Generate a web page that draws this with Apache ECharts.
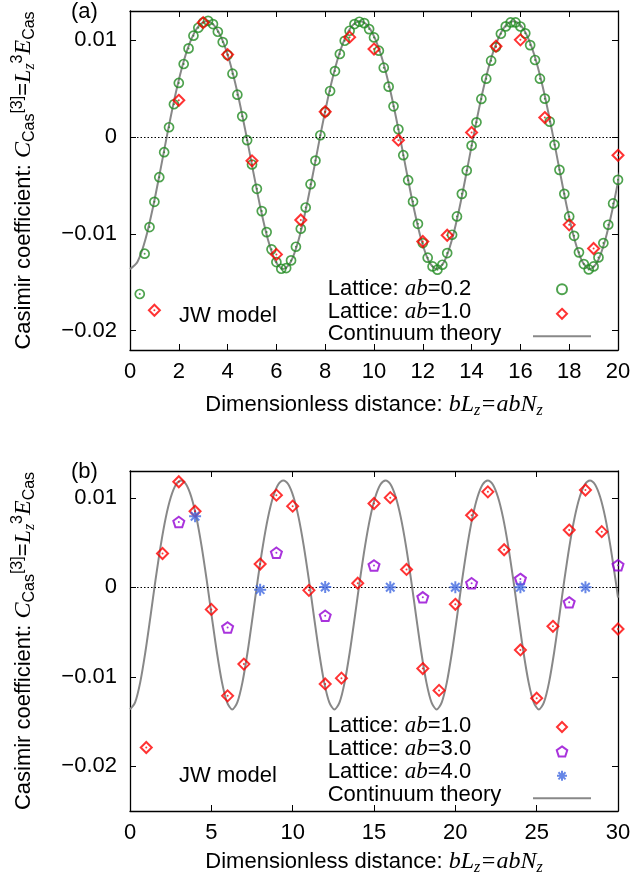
<!DOCTYPE html>
<html>
<head>
<meta charset="utf-8">
<script src="https://cdn.jsdelivr.net/npm/echarts@6/dist/echarts.min.js"></script>
<style>
  html, body { margin: 0; padding: 0; background: #fff; }
  #box { width: 634px; height: 886px; }
</style>
</head>
<body>
<div id="box"></div>
<script>
var SANS = 'Liberation Sans, Arial, sans-serif';
var SERIF = 'Liberation Serif, Times New Roman, serif';

// continuum theory curve
var curveX = [0, 0.314, 0.628, 0.942, 1.257, 1.571, 1.885, 2.199, 2.513, 2.827,
  3.142, 3.456, 3.770, 4.084, 4.398, 4.712, 5.027, 5.341, 5.655, 5.969,
  6.283, 6.597, 6.912, 7.226, 7.540, 7.854, 8.168, 8.482, 8.796, 9.111,
  9.425, 9.739, 10.053, 10.367, 10.681, 10.996, 11.310, 11.624, 11.938, 12.252,
  12.566, 12.881, 13.195, 13.509, 13.823, 14.137, 14.451, 14.765, 15.080, 15.394,
  15.708, 16.022, 16.336, 16.650, 16.965, 17.279, 17.593, 17.907, 18.221, 18.535,
  18.850, 19.164, 19.478, 19.792, 20.106, 20.420, 20.735, 21.049, 21.363, 21.677,
  21.991, 22.305, 22.619, 22.934, 23.248, 23.562, 23.876, 24.190, 24.504, 24.819,
  25.133, 25.447, 25.761, 26.075, 26.389, 26.704, 27.018, 27.332, 27.646, 27.960,
  28.274, 28.588, 28.903, 29.217, 29.531, 29.845, 30];
var curveY = [-0.01365, -0.01286, -0.01062, -0.00726, -0.00327, 0.00085, 0.00464, 0.00779, 0.01009, 0.01149,
  0.01195, 0.01149, 0.01009, 0.00779, 0.00464, 0.00085, -0.00327, -0.00726, -0.01062, -0.01286,
  -0.01365, -0.01286, -0.01062, -0.00726, -0.00327, 0.00085, 0.00464, 0.00779, 0.01009, 0.01149,
  0.01195, 0.01149, 0.01009, 0.00779, 0.00464, 0.00085, -0.00327, -0.00726, -0.01062, -0.01286,
  -0.01365, -0.01286, -0.01062, -0.00726, -0.00327, 0.00085, 0.00464, 0.00779, 0.01009, 0.01149,
  0.01195, 0.01149, 0.01009, 0.00779, 0.00464, 0.00085, -0.00327, -0.00726, -0.01062, -0.01286,
  -0.01365, -0.01286, -0.01062, -0.00726, -0.00327, 0.00085, 0.00464, 0.00779, 0.01009, 0.01149,
  0.01195, 0.01149, 0.01009, 0.00779, 0.00464, 0.00085, -0.00327, -0.00726, -0.01062, -0.01286,
  -0.01365, -0.01286, -0.01062, -0.00726, -0.00327, 0.00085, 0.00464, 0.00779, 0.01009, 0.01149,
  0.01195, 0.01149, 0.01009, 0.00779, 0.00464, 0.00085, -0.00115];

// lattice ab=0.2, bL from 0.4 to 20.0 in steps of 0.2
var lat02Y = [-0.01622, -0.01206, -0.00931, -0.00670, -0.00416, -0.00158, 0.00100, 0.00337, 0.00557, 0.00753,
  0.00914, 0.01045, 0.01127, 0.01182, 0.01199, 0.01165, 0.01086, 0.00979, 0.00845, 0.00653,
  0.00436, 0.00213, -0.00034, -0.00285, -0.00536, -0.00766, -0.00983, -0.01161, -0.01292, -0.01361,
  -0.01354, -0.01275, -0.01134, -0.00948, -0.00729, -0.00488, -0.00244, 0.00017, 0.00258, 0.00474,
  0.00680, 0.00856, 0.00993, 0.01096, 0.01165, 0.01189, 0.01175, 0.01113, 0.01027, 0.00890,
  0.00715, 0.00519, 0.00316, 0.00079, -0.00189, -0.00447, -0.00667, -0.00897, -0.01096, -0.01247,
  -0.01337, -0.01371, -0.01320, -0.01199, -0.01010, -0.00821, -0.00588, -0.00347, -0.00089, 0.00151,
  0.00392, 0.00601, 0.00787, 0.00928, 0.01065, 0.01141, 0.01182, 0.01182, 0.01140, 0.01069,
  0.00948, 0.00794, 0.00601, 0.00395, 0.00158, -0.00082, -0.00340, -0.00588, -0.00821, -0.01021,
  -0.01192, -0.01313, -0.01368, -0.01337, -0.01244, -0.01096, -0.00907, -0.00687, -0.00443];

// lattice ab=1.0, bL = 1..30
var lat10X = [1, 2, 3, 4, 5, 6, 7, 8, 9, 10, 11, 12, 13, 14, 15, 16, 17, 18, 19, 20,
  21, 22, 23, 24, 25, 26, 27, 28, 29, 30];
var lat10Y = [-0.0179, 0.00378, 0.0118, 0.0085, -0.00247, -0.01213, -0.00858, 0.0026, 0.0103, 0.00907,
  -0.00034, -0.0108, -0.01015, 0.00046, 0.00937, 0.01002, 0.002, -0.00908, -0.01152, -0.0019,
  0.00806, 0.01067, 0.0042, -0.007, -0.01239, -0.00436, 0.0064, 0.01087, 0.00622, -0.00466];

// lattice ab=3.0
var lat30X = [3, 6, 9, 12, 15, 18, 21, 24, 27, 30];
var lat30Y = [0.0073, -0.00449, 0.00386, -0.00318, 0.00244, -0.00112, 0.00045, 0.00094, -0.00168, 0.00247];

// lattice ab=4.0
var lat40X = [4, 8, 12, 16, 20, 24, 28];
var lat40Y = [0.00794, -0.00026, 0.00003, 0, 0, 0, 0];

var yTickVals = [-0.02, -0.01, 0, 0.01];
var yTickLabels = ['\u22120.02', '\u22120.01', '0', '0.01'];

function zip(xs, ys) {
  return ys.map(function (v, i) { return [xs[i], v]; });
}
var curveData = zip(curveX, curveY);
var lat02Data = lat02Y.map(function (v, i) { return [+(0.4 + 0.2 * i).toFixed(1), v]; });
var lat10Data = zip(lat10X, lat10Y);
var lat30Data = zip(lat30X, lat30Y);
var lat40Data = zip(lat40X, lat40Y);

var GREEN = '#228b22', RED = '#ff0000', PURPLE = '#9400d3', BLUE = '#4169e1', GRAY = '#888888';
var DIAMOND = 'path://M0,-10L10,0L0,10L-10,0Z';
var PENTAGON = 'path://M0,-10L9.511,-3.09L5.878,8.09L-5.878,8.09L-9.511,-3.09Z';
var ASTER = 'path://M0,-10L0,10M-10,0L10,0M-7.07,-7.07L7.07,7.07M-7.07,7.07L7.07,-7.07';

var chart = echarts.init(document.getElementById('box'));

function yFmt(v) {
  for (var i = 0; i < yTickVals.length; i++) {
    if (Math.abs(yTickVals[i] - v) < 1e-9) return yTickLabels[i];
  }
  return '';
}

var nameRich = {
  i: { fontFamily: SERIF, fontStyle: 'italic', fontSize: 24, lineHeight: 28, color: '#000' },
  sub: { fontFamily: SANS, fontSize: 16, lineHeight: 16, verticalAlign: 'bottom', color: '#000' },
  subi: { fontFamily: SERIF, fontStyle: 'italic', fontSize: 16, lineHeight: 16, verticalAlign: 'bottom', color: '#000' },
  sup: { fontFamily: SANS, fontSize: 16, lineHeight: 16, verticalAlign: 'top', color: '#000' },
  t: { fontFamily: SANS, fontSize: 22, lineHeight: 28, color: '#000' }
};

function xAxisMain(grid, max, interval, gap) {
  return {
    type: 'value', gridIndex: grid, position: 'bottom', min: 0, max: max, interval: interval,
    name: '{t|Dimensionless distance: }{i|bL}{subi|z}{i|=abN}{subi|z}',
    nameLocation: 'middle', nameGap: gap,
    nameTextStyle: { fontFamily: SANS, fontSize: 22, lineHeight: 28, color: '#000', rich: nameRich },
    axisLine: { onZero: false, lineStyle: { color: '#000', width: 1.3 } },
    axisTick: { inside: true, length: 6, lineStyle: { color: '#000', width: 1 } },
    axisLabel: { margin: 11, fontFamily: SANS, fontSize: 22, color: '#000' },
    splitLine: { show: false }
  };
}
function xAxisMirror(grid, max, interval) {
  return {
    type: 'value', gridIndex: grid, position: 'top', min: 0, max: max, interval: interval,
    axisLine: { onZero: false, lineStyle: { color: '#000', width: 1.3 } },
    axisTick: { inside: true, length: 6, lineStyle: { color: '#000', width: 1 } },
    axisLabel: { show: false },
    splitLine: { show: false }
  };
}
function yAxisMain(grid, min) {
  return {
    type: 'value', gridIndex: grid, position: 'left', min: min, max: 0.013,
    name: 'Casimir coefficient: {i|C}{sub|Cas}{sup|[3]}{t|=}{i|L}{subi|z}{sup|3}{i|E}{sub|Cas}',
    nameLocation: 'middle', nameGap: 92, nameRotate: 90,
    nameTextStyle: { fontFamily: SANS, fontSize: 22, lineHeight: 28, color: '#000', rich: nameRich },
    axisLine: { onZero: false, lineStyle: { color: '#000', width: 1.3 } },
    axisTick: { inside: true, length: 6, customValues: yTickVals, lineStyle: { color: '#000', width: 1 } },
    axisLabel: { margin: 13, fontFamily: SANS, fontSize: 22, color: '#000', customValues: yTickVals, formatter: yFmt },
    splitLine: { show: false }
  };
}
function yAxisMirror(grid, min) {
  return {
    type: 'value', gridIndex: grid, position: 'right', min: min, max: 0.013,
    axisLine: { onZero: false, lineStyle: { color: '#000', width: 1.3 } },
    axisTick: { inside: true, length: 6, customValues: yTickVals, lineStyle: { color: '#000', width: 1 } },
    axisLabel: { show: false, customValues: yTickVals },
    splitLine: { show: false }
  };
}

var zeroLine = {
  silent: true, symbol: ['none', 'none'], label: { show: false },
  lineStyle: { color: '#000', width: 1, type: [1.5, 2] },
  data: [{ yAxis: 0 }]
};

function curveSeries(ax) {
  return {
    name: 'Continuum theory', type: 'line', xAxisIndex: ax, yAxisIndex: ax,
    data: curveData, symbol: 'none', smooth: 0.3, clip: true, z: 1,
    lineStyle: { color: GRAY, width: 2 }, itemStyle: { color: GRAY },
    markLine: zeroLine
  };
}
function pts(name, ax, data, symbol, size, color, bw, z) {
  return {
    name: name, type: 'scatter', xAxisIndex: ax, yAxisIndex: ax, data: data,
    symbol: symbol, symbolSize: size, symbolKeepAspect: true, z: z,
    itemStyle: { color: 'rgba(0,0,0,0)', borderColor: color, borderWidth: bw }
  };
}
function dots(ax, data, color, z) {
  return {
    name: '_dot', type: 'scatter', xAxisIndex: ax, yAxisIndex: ax, data: data,
    symbol: 'circle', symbolSize: 2, z: z, itemStyle: { color: color }
  };
}

var legendText = {
  fontFamily: SANS, fontSize: 22, lineHeight: 22.5, color: '#000',
  rich: { i: { fontFamily: SERIF, fontStyle: 'italic', fontSize: 23, lineHeight: 22.5, color: '#000' } }
};
function legendNames(top, names, gap) {
  return {
    orient: 'vertical', left: 322.7, top: top, padding: 0, itemGap: 0,
    itemWidth: 0, itemHeight: 0, icon: 'none', selectedMode: false,
    data: names,
    formatter: function (n) { return n.replace('ab', '{i|ab}'); },
    textStyle: Object.assign({}, legendText, { lineHeight: gap })
  };
}
function legendIcons(top, names, gap) {
  return {
    orient: 'vertical', left: 532, top: top, padding: 0, itemGap: gap - 10,
    itemWidth: 58, itemHeight: 10, selectedMode: false, symbolKeepAspect: true,
    data: names.map(function (n) {
      return n === 'Continuum theory'
        ? { name: n, icon: 'inherit', itemStyle: { opacity: 0 } }
        : { name: n };
    }),
    formatter: function () { return ''; },
    textStyle: { fontSize: 1, lineHeight: 1 }
  };
}

var topNames = ['Lattice: ab=0.2', 'Lattice: ab=1.0', 'Continuum theory'];
var botNames = ['Lattice: ab=1.0', 'Lattice: ab=3.0', 'Lattice: ab=4.0', 'Continuum theory'];

var option = {
  backgroundColor: '#fff',
  animation: false,
  grid: [
    { left: 130, top: 11, width: 488, height: 339 },
    { left: 130, top: 471, width: 488, height: 340 }
  ],
  xAxis: [xAxisMain(0, 20, 2, 41), xAxisMirror(0, 20, 2), xAxisMain(1, 30, 5, 37), xAxisMirror(1, 30, 5)],
  yAxis: [yAxisMain(0, -0.022), yAxisMirror(0, -0.022), yAxisMain(1, -0.025), yAxisMirror(1, -0.025)],
  legend: [
    legendNames(277, topNames, 22.5), legendIcons(283.3, topNames, 22.5),
    legendNames(714.8, botNames, 22.4), legendIcons(721, botNames, 22.4)
  ],
  graphic: [
    { type: 'text', left: 71, top: 1, style: { text: '(a)', font: '22px Liberation Sans', fill: '#000' } },
    { type: 'text', left: 179, top: 305, style: { text: 'JW model', font: '22px Liberation Sans', fill: '#000' } },
    { type: 'text', left: 71, top: 461, style: { text: '(b)', font: '22px Liberation Sans', fill: '#000' } },
    { type: 'text', left: 179, top: 765, style: { text: 'JW model', font: '22px Liberation Sans', fill: '#000' } }
  ],
  series: [
    curveSeries(0),
    pts('Lattice: ab=0.2', 0, lat02Data, 'circle', 9, GREEN, 1.7, 3),
    dots(0, lat02Data, GREEN, 4),
    pts('Lattice: ab=1.0', 0, lat10Data.slice(0, 20), DIAMOND, 11, RED, 2, 5),
    dots(0, lat10Data.slice(0, 20), RED, 6),
    curveSeries(2),
    pts('Lattice: ab=1.0', 2, lat10Data, DIAMOND, 11, RED, 2, 5),
    dots(2, lat10Data, RED, 6),
    pts('Lattice: ab=3.0', 2, lat30Data, PENTAGON, 11, PURPLE, 2, 5),
    dots(2, lat30Data, PURPLE, 6),
    pts('Lattice: ab=4.0', 2, lat40Data, ASTER, 12, BLUE, 2, 5)
  ]
};

chart.setOption(option);
</script>
</body>
</html>
